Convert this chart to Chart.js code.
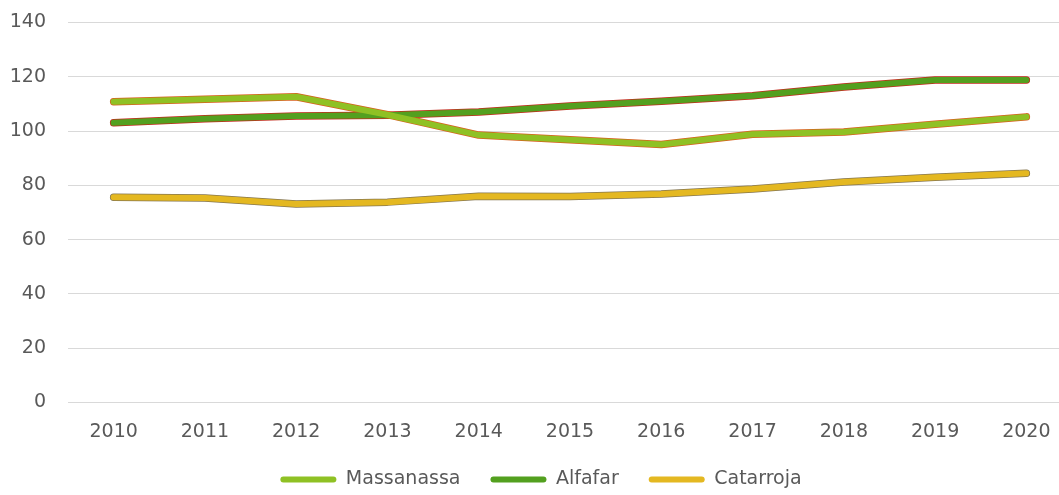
<!DOCTYPE html>
<html>
<head>
<meta charset="utf-8">
<script src="https://cdn.jsdelivr.net/npm/chart.js@4/dist/chart.umd.min.js"></script>
<style>
  html, body { margin: 0; padding: 0; background: #fff; overflow: hidden; }
  #wrap { width: 1110px; height: 510px; margin-top: -11px; position: relative; }
</style>
</head>
<body>
<div id="wrap"><canvas id="myChart"></canvas></div>
<script>
const years = ['2010', '2011', '2012', '2013', '2014', '2015', '2016', '2017', '2018', '2019', '2020'];
const massanassa = [110.8, 111.7, 112.6, 106, 98.5, 96.8, 95, 98.8, 99.6, 102.5, 105.2];
const alfafar = [103, 104.5, 105.5, 105.8, 107, 109.2, 111, 113, 116.2, 118.8, 118.8];
const catarroja = [75.6, 75.3, 73.1, 73.8, 76, 75.9, 76.8, 78.6, 81.2, 83, 84.4];
const yTicks = [0, 20, 40, 60, 80, 100, 120, 140];

const seriesNames = ['Massanassa', 'Alfafar', 'Catarroja'];
const seriesData = [massanassa, alfafar, catarroja];
const lineColors = ['#8fc124', '#53a01f', '#e4b821'];
const edgeColors = ['#d8601e', '#c22a1c', '#857650'];

Chart.defaults.font.family = '"DejaVu Sans", Verdana, sans-serif';
Chart.defaults.color = '#595959';

var datasets = [];
seriesNames.forEach(function (name, i) {
    // thin coloured outline under each line
    datasets.push({
        label: '',
        data: seriesData[i],
        borderColor: edgeColors[i],
        borderWidth: 7.5,
        borderCapStyle: 'round',
        borderJoinStyle: 'round',
        pointRadius: 0,
        tension: 0,
        order: 10 + i
    });
    datasets.push({
        label: name,
        data: seriesData[i],
        borderColor: lineColors[i],
        backgroundColor: lineColors[i],
        borderWidth: 6,
        borderCapStyle: 'round',
        borderJoinStyle: 'round',
        pointRadius: 0,
        tension: 0,
        order: i
    });
});

var ctx = document.getElementById('myChart').getContext('2d');
var myChart = new Chart(ctx, {
    type: 'line',
    data: { labels: years, datasets: datasets },
    options: {
        responsive: true,
        maintainAspectRatio: false,
        animation: false,
        layout: { padding: { left: 10, right: 38, top: 0, bottom: 0 } },
        plugins: {
            tooltip: { enabled: false },
            legend: {
                position: 'bottom',
                labels: {
                    generateLabels: function (chart) {
                        return Chart.defaults.plugins.legend.labels.generateLabels(chart)
                            .filter(function (l) { return l.text !== ''; })
                            .map(function (l) { l.lineWidth = 0; return l; });
                    },
                    font: { size: 19 },
                    boxWidth: 56,
                    boxHeight: 6,
                    useBorderRadius: true,
                    borderRadius: 3,
                    padding: 30
                }
            }
        },
        scales: {
            x: {
                offset: true,
                grid: { display: false },
                border: { display: false },
                ticks: { font: { size: 19 }, padding: 10, maxRotation: 0 },
                afterFit: function (axis) { axis.height = 37.5; }
            },
            y: {
                min: 0,
                max: 140,
                afterBuildTicks: function (axis) {
                    axis.ticks = yTicks.map(function (v) { return { value: v }; });
                },
                grid: { color: '#d9d9d9', lineWidth: 1, drawTicks: false },
                border: { display: false },
                ticks: { font: { size: 19 }, padding: 22 },
                afterFit: function (axis) { axis.width = 58; }
            }
        }
    }
});
</script>
</body>
</html>
